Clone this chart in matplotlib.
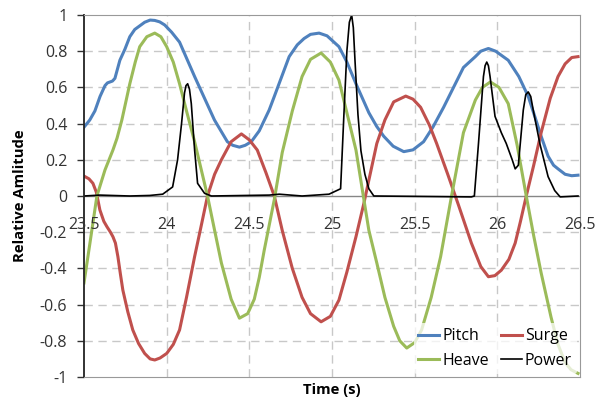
import matplotlib
matplotlib.use("Agg")
import matplotlib.pyplot as plt

# values (time in s, relative amplitude)
pitch_t = [23.5, 23.535, 23.566, 23.597, 23.627, 23.642, 23.657, 23.672, 23.687, 23.717,
           23.747, 23.777, 23.807, 23.867, 23.90, 23.928, 23.958, 23.988, 24.03, 24.078,
           24.169, 24.289, 24.367, 24.40, 24.44, 24.475, 24.512, 24.56, 24.62, 24.651,
           24.741, 24.79, 24.831, 24.87, 24.922, 24.97, 25.042, 25.09, 25.145, 25.223,
           25.27, 25.313, 25.37, 25.434, 25.49, 25.554, 25.61, 25.675, 25.735, 25.795,
           25.867, 25.90, 25.946, 25.99, 26.066, 26.13, 26.187, 26.23, 26.265, 26.307,
           26.34, 26.367, 26.41, 26.45, 26.488]
pitch_v = [0.38, 0.42, 0.47, 0.55, 0.61, 0.625, 0.63, 0.635, 0.65, 0.75,
           0.81, 0.88, 0.92, 0.96, 0.972, 0.97, 0.962, 0.945, 0.905, 0.85,
           0.66, 0.42, 0.30, 0.28, 0.27, 0.28, 0.30, 0.36, 0.475, 0.55,
           0.77, 0.835, 0.87, 0.893, 0.90, 0.885, 0.825, 0.74, 0.62, 0.46,
           0.385, 0.33, 0.275, 0.245, 0.255, 0.30, 0.38, 0.49, 0.60, 0.71,
           0.77, 0.80, 0.815, 0.80, 0.75, 0.66, 0.55, 0.43, 0.33, 0.22,
           0.17, 0.15, 0.12, 0.112, 0.115]

surge_t = [23.5, 23.53, 23.554, 23.575, 23.596, 23.62, 23.639, 23.66, 23.675, 23.69,
           23.705, 23.72, 23.735, 23.765, 23.795, 23.83, 23.867, 23.90, 23.928, 23.96,
           24.0, 24.04, 24.078, 24.12, 24.169, 24.21, 24.247, 24.29, 24.331, 24.39,
           24.452, 24.50, 24.548, 24.60, 24.651, 24.699, 24.76, 24.819, 24.87, 24.934,
           24.99, 25.042, 25.09, 25.145, 25.193, 25.223, 25.271, 25.32, 25.373, 25.446,
           25.49, 25.536, 25.59, 25.633, 25.70, 25.765, 25.843, 25.90, 25.946, 25.985,
           26.024, 26.07, 26.108, 26.14, 26.175, 26.22, 26.265, 26.32, 26.367, 26.41,
           26.45, 26.488]
surge_v = [0.11, 0.095, 0.07, 0.02, -0.077, -0.14, -0.17, -0.2, -0.225, -0.26,
           -0.335, -0.43, -0.52, -0.64, -0.74, -0.815, -0.87, -0.9, -0.906, -0.895,
           -0.87, -0.82, -0.74, -0.56, -0.335, -0.16, 0.0, 0.12, 0.2, 0.3,
           0.343, 0.31, 0.254, 0.13, 0.0, -0.19, -0.4, -0.56, -0.65, -0.695,
           -0.665, -0.575, -0.42, -0.225, -0.04, 0.088, 0.29, 0.42, 0.52, 0.552,
           0.535, 0.49, 0.39, 0.29, 0.12, -0.05, -0.26, -0.39, -0.446, -0.44,
           -0.41, -0.35, -0.26, -0.14, 0.0, 0.17, 0.35, 0.54, 0.66, 0.73,
           0.765, 0.77]

heave_t = [23.5, 23.536, 23.578, 23.627, 23.675, 23.70, 23.729, 23.777, 23.81, 23.837,
           23.88, 23.928, 23.965, 24.0, 24.04, 24.078, 24.12, 24.169, 24.247, 24.29,
           24.331, 24.39, 24.44, 24.49, 24.53, 24.56, 24.59, 24.651, 24.699, 24.76,
           24.819, 24.87, 24.934, 24.99, 25.042, 25.09, 25.145, 25.193, 25.223, 25.271,
           25.32, 25.373, 25.41, 25.452, 25.50, 25.542, 25.60, 25.657, 25.723, 25.76,
           25.795, 25.867, 25.91, 25.958, 26.01, 26.066, 26.12, 26.175, 26.22, 26.265,
           26.325, 26.367, 26.41, 26.446, 26.488]
heave_v = [-0.48, -0.26, 0.0, 0.144, 0.254, 0.32, 0.42, 0.62, 0.74, 0.825,
           0.88, 0.90, 0.88, 0.825, 0.74, 0.62, 0.47, 0.30, 0.0, -0.19,
           -0.37, -0.57, -0.675, -0.65, -0.57, -0.45, -0.3, -0.02, 0.24, 0.47,
           0.66, 0.755, 0.79, 0.74, 0.64, 0.46, 0.254, -0.02, -0.19, -0.37,
           -0.56, -0.72, -0.8, -0.84, -0.81, -0.74, -0.56, -0.335, 0.0, 0.18,
           0.35, 0.53, 0.60, 0.63, 0.60, 0.51, 0.28, 0.0, -0.22, -0.425,
           -0.67, -0.82, -0.92, -0.96, -0.98]

power_t = [23.5, 23.596, 23.777, 23.898, 23.976, 24.036, 24.066, 24.090, 24.108, 24.117,
           24.127, 24.138, 24.149, 24.169, 24.187, 24.229, 24.271, 24.620, 24.681, 24.819,
           24.982, 25.052, 25.072, 25.090, 25.105, 25.119, 25.129, 25.139, 25.157, 25.175,
           25.199, 25.223, 25.253, 25.843, 25.861, 25.886, 25.916, 25.926, 25.936, 25.946,
           25.956, 25.986, 26.024, 26.054, 26.090, 26.108, 26.127, 26.157, 26.172, 26.187,
           26.202, 26.217, 26.257, 26.307, 26.347, 26.380, 26.488]
power_v = [0.0, 0.005, 0.0, 0.003, 0.01, 0.05, 0.2, 0.4, 0.57, 0.61,
           0.62, 0.59, 0.51, 0.254, 0.07, 0.015, 0.0, 0.005, 0.01, 0.0,
           0.01, 0.04, 0.45, 0.8, 0.96, 1.0, 0.93, 0.75, 0.45, 0.25,
           0.12, 0.04, 0.0, -0.005, 0.0, 0.29, 0.66, 0.72, 0.74, 0.72,
           0.66, 0.44, 0.35, 0.29, 0.20, 0.15, 0.17, 0.475, 0.56, 0.575,
           0.55, 0.475, 0.29, 0.107, 0.03, -0.005, 0.0]

x_ticks = [23.5, 24, 24.5, 25, 25.5, 26, 26.5]
x_labels = ["23.5", "24", "24.5", "25", "25.5", "26", "26.5"]
y_ticks = [-1, -0.8, -0.6, -0.4, -0.2, 0, 0.2, 0.4, 0.6, 0.8, 1]
y_labels = ["-1", "-0.8", "-0.6", "-0.4", "-0.2", "0", "0.2", "0.4", "0.6", "0.8", "1"]

plt.rcParams['font.family'] = ['Open Sans', 'DejaVu Sans']

fig = plt.figure(figsize=(6.03, 4.01), dpi=100)
ax = fig.add_axes([84/603, 1 - 377/401, (580-84)/603, (377-15)/401])

l_pitch, = ax.plot(pitch_t, pitch_v, color='#4F81BD', lw=2.2, solid_joinstyle='round')
l_surge, = ax.plot(surge_t, surge_v, color='#C0504D', lw=2.2, solid_joinstyle='round')
l_heave, = ax.plot(heave_t, heave_v, color='#9BBB59', lw=2.2, solid_joinstyle='round')
l_power, = ax.plot(power_t, power_v, color='black', lw=1.2, solid_joinstyle='round')

ax.set_xlim(23.5, 26.5)
ax.set_ylim(-1, 1)

# grid
for t in x_ticks[1:-1]:
    ax.axvline(t, color='#c8c8c8', lw=1, ls=(0, (6, 4)), zorder=0)
for v in y_ticks[1:-1]:
    if v != 0:
        ax.axhline(v, color='#c8c8c8', lw=1, ls=(0, (6, 4)), zorder=0)
ax.axhline(0, color='#868686', lw=1, zorder=1)

ax.set_yticks(y_ticks)
ax.set_yticklabels(y_labels)
ax.tick_params(axis='y', length=5, width=1, color='#333333', labelsize=11.5,
               labelcolor='#333333', pad=7)
ax.set_xticks([])
for t, lab in zip(x_ticks, x_labels):
    ax.text(t, -0.16, lab, ha='center', va='center', fontsize=11.5, color='#333333')

for s in ['top', 'right', 'bottom']:
    ax.spines[s].set_color('#999999')
ax.spines['left'].set_color('#222222')
ax.spines['left'].set_linewidth(1.3)

ax.set_ylabel('Relative Amlitude', fontsize=10.7, fontweight='bold')
ax.yaxis.set_label_coords(-0.115, 0.5)
fig.text(332/603, 1 - 390/401, 'Time (s)', ha='center', va='center',
         fontsize=10.7, fontweight='bold')

# column-wise fill: Pitch/Heave in col 1, Surge/Power in col 2
leg = ax.legend([l_pitch, l_heave, l_surge, l_power], ['Pitch', 'Heave', 'Surge', 'Power'],
                ncol=2, loc='lower right', bbox_to_anchor=(1.0, 0.0), frameon=True,
                fontsize=11.5, handlelength=1.3, handletextpad=0.2, columnspacing=0.75,
                labelspacing=0.55, borderpad=0.3, borderaxespad=0.2)
leg.get_frame().set_facecolor('white')
leg.get_frame().set_edgecolor('none')
leg.get_frame().set_alpha(0.75)

fig.savefig('out.png', dpi=100)
